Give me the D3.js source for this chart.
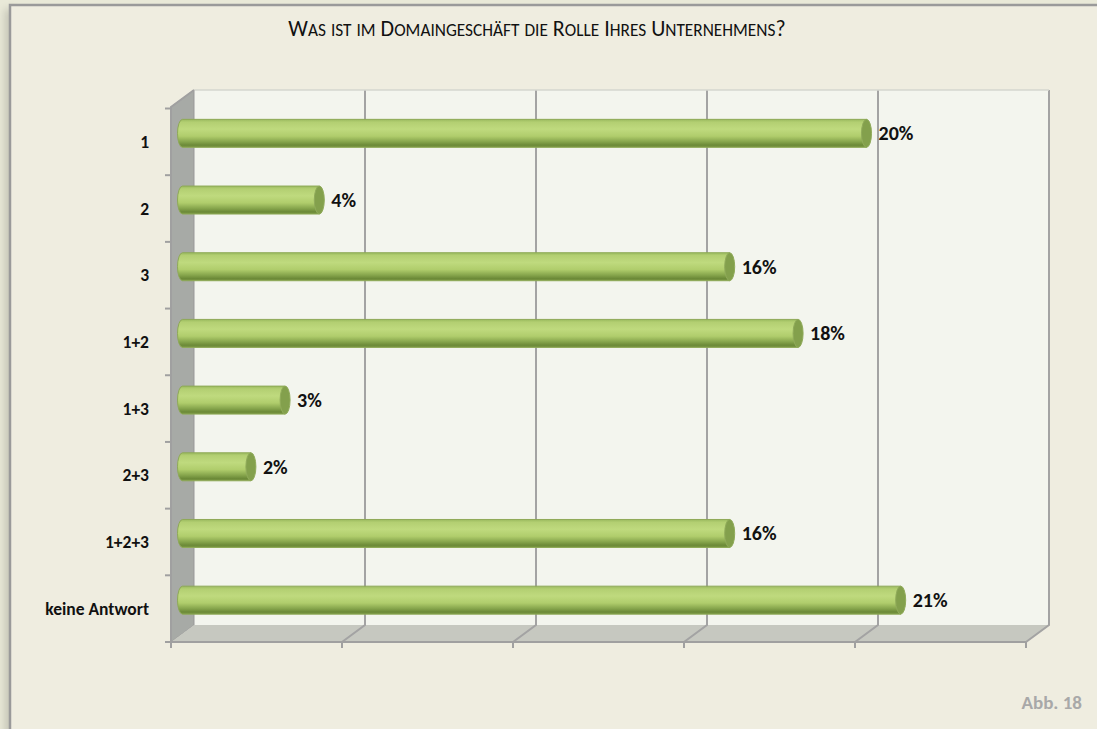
<!DOCTYPE html>
<html>
<head>
<meta charset="utf-8">
<style>
  body { margin: 0; background: #e9e9d8; overflow: hidden; }
  svg { display: block; font-family: Carlito, Lato, "Open Sans", sans-serif; }
</style>
</head>
<body>
<script src="https://d3js.org/d3.v7.min.js"></script>
<script>

  var categories = ["1", "2", "3", "1+2", "1+3", "2+3", "1+2+3", "keine Antwort"];
  var values = [20, 4, 16, 18, 3, 2, 16, 21];
  var gridTicks = [0, 5, 10, 15, 20, 25];
  var title = "Was ist im Domaingeschäft die Rolle Ihres Unternehmens?";
  var note = "Abb. 18";

  var width = 1097;
  var height = 729;

  // 3d box: back wall and front plane, depth offset
  var back = {left: 194, top: 90, bottom: 625};
  var depthX = 23, depthY = 17;

  var x = d3.scaleLinear().domain([0, 25]).range([0, 855]);
  var y = d3.scaleBand().domain(categories).range([108.5, 642]);

  var svg = d3.select("body")
      .append("svg")
      .attr("width", width)
      .attr("height", height);

  var defs = svg.append("defs");

  defs.append("filter").attr("id", "blur")
      .attr("x", "-50%").attr("y", "-5%").attr("width", "200%").attr("height", "110%")
      .append("feGaussianBlur").attr("stdDeviation", 4);

  var grad = defs.append("linearGradient").attr("id", "bar")
      .attr("x1", 0).attr("y1", 0).attr("x2", 0).attr("y2", 1);
  [[0, "#9aba5e"], [0.1, "#b3cf72"], [0.35, "#bfda7e"], [0.6, "#b0cd6c"],
   [0.8, "#86a54c"], [0.92, "#6c8a38"], [1, "#7b9844"]].forEach(function (s) {
    grad.append("stop").attr("offset", s[0]).attr("stop-color", s[1]);
  });

  // frame shadow on the left, then frame running past right and bottom edges
  svg.append("rect")
      .attr("x", 5).attr("y", 9)
      .attr("width", 12).attr("height", 760)
      .attr("fill", "#000").attr("opacity", 0.16)
      .attr("filter", "url(#blur)");
  svg.append("rect")
      .attr("x", 10).attr("y", 5)
      .attr("width", 1200).attr("height", 800)
      .attr("fill", "#efede0")
      .attr("stroke", "#9a9a9a")
      .attr("stroke-width", 2.5);

  // title in small caps: capitals large, lower case set as small capitals
  var titleText = svg.append("text")
      .attr("x", 537).attr("y", 36)
      .attr("text-anchor", "middle")
      .attr("fill", "#111");
  title.split("").forEach(function (ch) {
    var big = ch !== ch.toLowerCase() || /[?\s]/.test(ch);
    titleText.append("tspan")
        .style("font-size", big ? "22px" : "17.3px")
        .text(ch.toUpperCase());
  });

  var bx = function (v) { return back.left + x(v); };
  var fx = function (v) { return back.left - depthX + x(v); };
  var frontBottom = back.bottom + depthY;

  // back wall
  svg.append("rect")
      .attr("x", bx(0)).attr("y", back.top)
      .attr("width", x(25)).attr("height", back.bottom - back.top)
      .attr("fill", "#f3f5ee");

  // side wall
  svg.append("polygon")
      .attr("points", [[bx(0), back.top], [fx(0), back.top + depthY],
                       [fx(0), frontBottom], [bx(0), back.bottom]].join(" "))
      .attr("fill", "#a7aaa6")
      .attr("stroke", "#999")
      .attr("stroke-width", 1);

  // floor
  svg.append("polygon")
      .attr("points", [[bx(0), back.bottom], [bx(25), back.bottom],
                       [fx(25), frontBottom], [fx(0), frontBottom]].join(" "))
      .attr("fill", "#c6c8c0");

  // gridlines on wall and floor
  var grid = svg.append("g").attr("stroke", "#a3a3a3").attr("stroke-width", 2).attr("fill", "none");
  grid.selectAll(".gl")
      .data(gridTicks.slice(1))
      .enter().append("path")
      .attr("d", function (d) {
        return "M" + bx(d) + "," + back.top + "V" + back.bottom +
               "L" + fx(d) + "," + frontBottom;
      });
  grid.append("line")
      .attr("x1", bx(0)).attr("x2", bx(25))
      .attr("y1", back.top).attr("y2", back.top)
      .attr("stroke", "#d4d6cf").attr("stroke-width", 1.5);

  // axis lines and ticks
  var axis = svg.append("g").attr("stroke", "#a0a0a0").attr("stroke-width", 2).attr("fill", "none");
  axis.append("path")
      .attr("d", "M" + bx(0) + "," + back.top + "L" + fx(0) + "," + (back.top + depthY) +
                 "V" + frontBottom + "H" + fx(25));
  axis.selectAll(".yt")
      .data(categories.concat(["end"]))
      .enter().append("line")
      .attr("x1", fx(0) - 6).attr("x2", fx(0))
      .attr("y1", function (d, i) { return i < categories.length ? y(d) : frontBottom; })
      .attr("y2", function (d, i) { return i < categories.length ? y(d) : frontBottom; });
  axis.selectAll(".xt")
      .data(gridTicks)
      .enter().append("line")
      .attr("x1", function (d) { return fx(d); })
      .attr("x2", function (d) { return fx(d); })
      .attr("y1", frontBottom).attr("y2", frontBottom + 6);

  // category labels
  svg.selectAll(".cat")
      .data(categories)
      .enter().append("text")
      .attr("x", 149)
      .attr("y", function (d) { return y(d) + y.bandwidth() / 2 + 6; })
      .attr("text-anchor", "end")
      .style("font-size", "17.5px")
      .style("font-weight", "bold")
      .attr("fill", "#111")
      .text(function (d) { return d; });

  // cylinder bars, drawn on the middle plane of the box
  var midX = back.left - depthX / 2;
  var barH = 28, rx = 5;
  var bars = svg.selectAll(".bar")
      .data(values)
      .enter().append("g");

  function cy(i) { return y(categories[i]) + y.bandwidth() / 2 - depthY / 2; }

  bars.append("path")
      .attr("d", function (d, i) {
        var x0 = midX + x(0), x1 = midX + x(d), t = cy(i) - barH / 2, b = cy(i) + barH / 2;
        return "M" + x0 + "," + t + "H" + x1 + "V" + b + "H" + x0 +
               "A" + rx + "," + barH / 2 + " 0 0 1 " + x0 + "," + t + "Z";
      })
      .attr("fill", "url(#bar)")
      .attr("stroke", "#8ea957")
      .attr("stroke-width", 1);

  bars.append("ellipse")
      .attr("cx", function (d) { return midX + x(d); })
      .attr("cy", function (d, i) { return cy(i); })
      .attr("rx", rx).attr("ry", barH / 2)
      .attr("fill", "#83a04c")
      .attr("stroke", "#90ab5a")
      .attr("stroke-width", 1);

  bars.append("text")
      .attr("x", function (d) { return midX + x(d) + rx + 7; })
      .attr("y", function (d, i) { return cy(i) + 7; })
      .style("font-size", "20px")
      .style("font-weight", "bold")
      .attr("fill", "#111")
      .text(function (d) { return d + "%"; });

  svg.append("text")
      .attr("x", 1082).attr("y", 709)
      .attr("text-anchor", "end")
      .style("font-size", "19px")
      .style("font-weight", "bold")
      .attr("fill", "#a8a8a8")
      .text(note);

</script>
</body>
</html>
